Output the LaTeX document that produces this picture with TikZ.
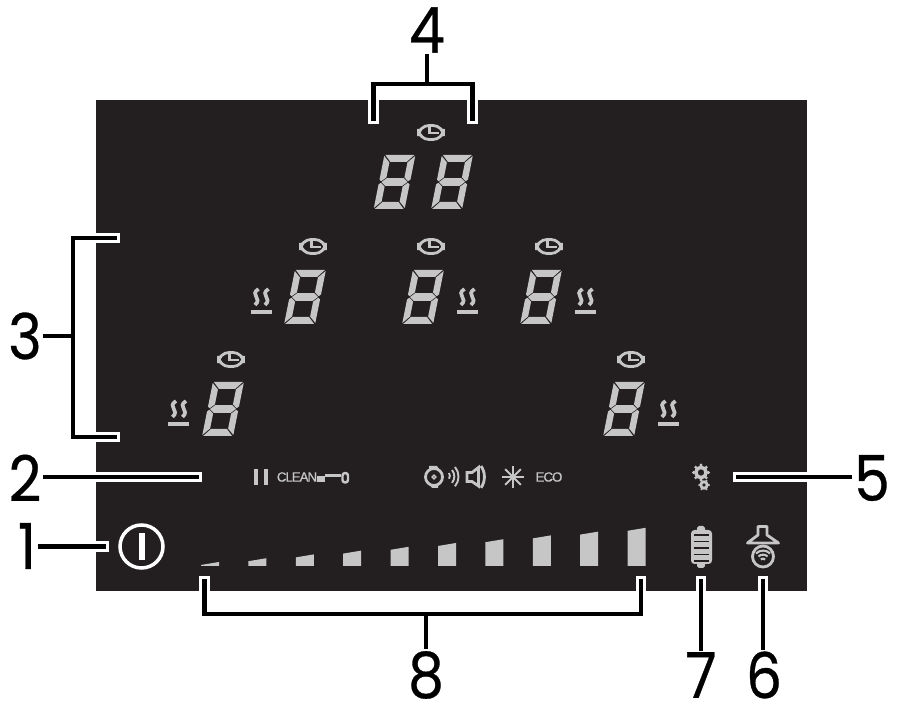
\documentclass[tikz,border=0pt]{standalone}
\usepackage{fontspec}
\setmainfont{Poppins}[FakeBold=0.5,FakeStretch=0.9]
\newfontfamily\panelfont[LetterSpace=-8,FakeBold=0.6]{Liberation Sans}
\definecolor{panelblack}{HTML}{231F20}
\definecolor{segrey}{HTML}{C6C6C6}
\tikzset{
	numlabel/.style={font=\fontsize{36}{36}\selectfont, text=black, inner sep=2pt},
	leader/.style={draw=black, line width=2.5pt, line cap=rect, line join=miter},
	halo/.style={draw=white, line width=6.2pt, line cap=rect, line join=miter},
	icon/.style={draw=segrey, line width=1.6pt},
	seg/.style={fill=segrey},
	paneltext/.style={text=segrey, inner sep=0pt, font=\panelfont\fontsize{7.6}{7.6}\selectfont},
	sevenseg/.pic={
		\begin{scope}[xslant=0.2]
		\fill[seg] (-14.5,-27) -- (14.5,-27) -- (8,-20) -- (-8,-20) -- cycle;
		\fill[seg] (-14.5,27) -- (14.5,27) -- (8,20) -- (-8,20) -- cycle;
		\fill[seg] (-13,0) -- (-8.5,-3.8) -- (8.5,-3.8) -- (13,0) -- (8.5,3.8) -- (-8.5,3.8) -- cycle;
		\fill[seg] (-15.5,-26) -- (-9,-19.5) -- (-9,-4.6) -- (-13.5,-0.8) -- (-15.5,-2.5) -- cycle;
		\fill[seg] (15.5,-26) -- (9,-19.5) -- (9,-4.6) -- (13.5,-0.8) -- (15.5,-2.5) -- cycle;
		\fill[seg] (-15.5,26) -- (-9,19.5) -- (-9,4.6) -- (-13.5,0.8) -- (-15.5,2.5) -- cycle;
		\fill[seg] (15.5,26) -- (9,19.5) -- (9,4.6) -- (13.5,0.8) -- (15.5,2.5) -- cycle;
		\end{scope}
	},
	clockicon/.pic={
		\draw[icon] (-12.5,-6.5) [rounded corners=6pt] rectangle (12.5,7.5);
		\draw[icon, line width=1.4pt] (-1.5,-5) -- (-1.5,1) -- (8,1);
	},
	heaticon/.pic={
		\fill[seg] (-10.5,9) rectangle (10.5,13);
		\foreach \wx in {-5,5}
			\draw[icon, line width=2.1pt] (\wx+2.5,-12) .. controls (\wx-7,-6) and (\wx+7,-3) .. (\wx-1,4);
	}
}
% leader with its white edge, the edge stays inside the panel
\newcommand{\leaderline}[1]{
	\begin{scope}
	\clip (panel.south west) rectangle (panel.north east);
	\draw[halo] #1;
	\end{scope}
	\draw[leader] #1;
}
\begin{document}
\begin{tikzpicture}[x=0.02cm, y=-0.02cm]
\useasboundingbox (0,0) rectangle (904,726);
\node (panel) at (451.5,345.5) [fill=panelblack, minimum width=14.22cm, minimum height=9.82cm, inner sep=0pt] {};

% timer display
\pic at (394.5,182) {sevenseg};
\pic at (452,182) {sevenseg};
\pic at (431,132) {clockicon};

% zones
\pic at (223,409) {sevenseg};
\pic at (305,297) {sevenseg};
\pic at (423,297) {sevenseg};
\pic at (541,297) {sevenseg};
\pic at (624,409) {sevenseg};
\pic at (231,359) {clockicon};
\pic at (313,246) {clockicon};
\pic at (431,246) {clockicon};
\pic at (549,246) {clockicon};
\pic at (631,359) {clockicon};
\pic at (178.5,413) {heaticon};
\pic at (261,301) {heaticon};
\pic at (467,301) {heaticon};
\pic at (585,301) {heaticon};
\pic at (668,413) {heaticon};

% function row
\fill[seg] (254,469) rectangle (258,485);
\fill[seg] (263.5,469) rectangle (267.5,485);
\node (clean) at (297,477) [paneltext] {CLEAN};
\fill[seg] (317,476.5) rectangle (325,482);
\fill[seg] (325,474.5) rectangle (341,477);
\draw[icon, line width=1.4pt] (342.5,473) [rounded corners=1.5pt] rectangle (348,482.5);
\draw[icon] (434,477) circle (8.5);
\draw[icon, line width=0.8pt] (434,477) circle (1.8);
\fill[seg] (429,466) -- (437,466) -- (439,469) -- (429,469) -- cycle;
\fill[seg] (430,485) -- (438,485) -- (438,488) -- (432,488) -- cycle;
\draw[icon, line width=1.1pt] (449,473) arc (-35:35:5);
\draw[icon, line width=1.1pt] (452,470) arc (-40:40:10);
\draw[icon, line width=1.1pt] (455,467) arc (-40:40:15);
\draw[icon, line join=miter] (467,472.5) -- (472,472.5) -- (478.5,467.5) -- (478.5,486) -- (472,481.5) -- (467,481.5) -- cycle;
\draw[icon] (481,466) arc (-35:35:19);
\foreach \ang in {0,45,90,135}
	\draw[icon, line width=1.2pt] (513,477) ++(\ang:11) -- ++(\ang+180:22);
\node (eco) at (549,477) [paneltext] {ECO};

% gears
\draw[icon, line width=2pt] (701,472.5) circle (5.2);
\foreach \ang in {0,45,...,315}
	\fill[seg] (701,472.5) ++(\ang:7.5) circle (1.6);
\draw[icon, line width=1.6pt] (704,485) circle (3.2);
\foreach \ang in {0,60,...,300}
	\fill[seg] (704,485) ++(\ang:4.8) circle (1.2);

% power key
\draw[draw=white, line width=2pt] (141.5,546.5) circle (21.5);
\fill[white] (138.7,533) rectangle (144.7,560);

% slider
\foreach \i in {0,...,9}
	\fill[seg] (201+47.4*\i,566) -- (219+47.4*\i,566) -- (219+47.4*\i,562-3.8*\i) -- (201+47.4*\i,565-3.8*\i) -- cycle;

% filter
\fill[seg, rounded corners=2pt] (691,530) rectangle (712,564);
\fill[seg, rounded corners=1pt] (697,526) rectangle (705,568);
\foreach \yy in {535,541.5,548,554.5,561}
	\draw[draw=panelblack, line width=0.9pt] (694,\yy) -- (709,\yy);

% hood
\draw[icon, line join=round] (758,535) -- (758,526.5) -- (767,526.5) -- (767,535) -- (778.5,543) -- (747.5,543) -- cycle;
\draw[icon] (763,556.5) circle (10.5);
\draw[icon, line width=1.2pt] (756,553.5) arc (-135:-45:10);
\draw[icon, line width=1.2pt] (758.5,556.5) arc (-135:-45:6.4);
\draw[icon, line width=1.2pt] (760.8,559.5) arc (-135:-45:3.1);

% labels
\node (1) at (27,546) [numlabel] {1};
\node (2) at (25,478) [numlabel] {2};
\node (3) at (25,336) [numlabel] {3};
\node (4) at (427,30) [numlabel] {4};
\node (5) at (872,478) [numlabel] {5};
\node (6) at (764,675) [numlabel] {6};
\node (7) at (701,675) [numlabel] {7};
\node (8) at (426,675) [numlabel] {8};

\coordinate (end1) at (103.5,546.5);
\coordinate (end2) at (196.5,477);
\coordinate (stem3) at (73,336);
\coordinate (top3) at (115,238);
\coordinate (bot3) at (115,437);
\coordinate (stem4) at (427,84);
\coordinate (left4) at (373.5,118.5);
\coordinate (right4) at (472.5,118.5);
\coordinate (end5) at (738.5,477);
\coordinate (end6) at (763,581.5);
\coordinate (end7) at (701,581.5);
\coordinate (stem8) at (426,614);
\coordinate (left8) at (204.5,581);
\coordinate (right8) at (641,581);

\leaderline{(1.east |- end1) -- (end1)}
\leaderline{(2.east |- end2) -- (end2)}
\leaderline{(top3) -- (stem3 |- top3) -- (stem3 |- bot3) -- (bot3)}
\leaderline{(3.east |- stem3) -- (stem3)}
\leaderline{(left4) -- (left4 |- stem4) -- (right4 |- stem4) -- (right4)}
\leaderline{(stem4) -- (stem4 |- 4.south)}
\leaderline{(5.west |- end5) -- (end5)}
\leaderline{(end6) -- (end6 |- 6.north)}
\leaderline{(end7) -- (end7 |- 7.north)}
\leaderline{(left8) -- (left8 |- stem8) -- (right8 |- stem8) -- (right8)}
\leaderline{(stem8) -- (stem8 |- 8.north)}
\end{tikzpicture}
\end{document}
